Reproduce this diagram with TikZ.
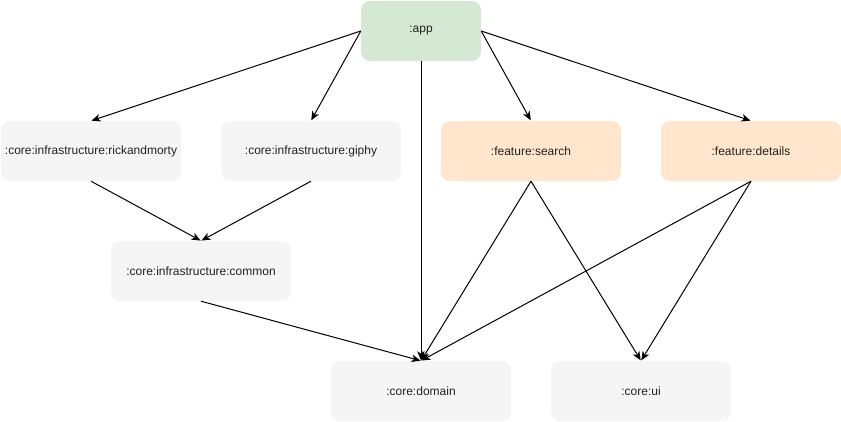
\documentclass[tikz,border=0pt]{standalone}
\usepackage{fontspec}
\setmainfont{Liberation Sans}
\usetikzlibrary{arrows.meta}
\definecolor{grayfill}{HTML}{F5F5F5}
\definecolor{greenfill}{HTML}{D5E8D4}
\definecolor{orangefill}{HTML}{FFE6CC}
\definecolor{txt}{HTML}{222222}
\tikzset{
  box/.style={rounded corners=9pt, minimum width=180pt, minimum height=60pt, inner sep=0pt, font=\fontsize{12pt}{14pt}\selectfont, text=txt, fill=grayfill},
  appbox/.style={box, minimum width=120pt, fill=greenfill},
  featbox/.style={box, fill=orangefill},
  conn/.style={draw=black, line width=1pt, -{Stealth[length=9pt,width=7.5pt,inset=2.5pt]}, shorten >=0.5pt}
}
\begin{document}
\begin{tikzpicture}[x=1pt,y=-1pt]
\useasboundingbox (0,0) rectangle (841,421);
\node[appbox] (app) at (421,31) {:app};
\node[box] (rm) at (91,151) {:core:infrastructure:rickandmorty};
\node[box] (gi) at (311,151) {:core:infrastructure:giphy};
\node[featbox] (se) at (531,151) {:feature:search};
\node[featbox] (de) at (751,151) {:feature:details};
\node[box] (co) at (201,271) {:core:infrastructure:common};
\node[box] (do) at (421,391) {:core:domain};
\node[box] (ui) at (641,391) {:core:ui};

\draw[conn] (app.west) -- (rm.north);
\draw[conn] (app.west) -- (gi.north);
\draw[conn] (app.south) -- (do.north);
\draw[conn] (app.east) -- (se.north);
\draw[conn] (app.east) -- (de.north);
\draw[conn] (rm.south) -- (co.north);
\draw[conn] (gi.south) -- (co.north);
\draw[conn] (co.south) -- (do.north);
\draw[conn] (se.south) -- (do.north);
\draw[conn] (se.south) -- (ui.north);
\draw[conn] (de.south) -- (do.north);
\draw[conn] (de.south) -- (ui.north);
\end{tikzpicture}
\end{document}
